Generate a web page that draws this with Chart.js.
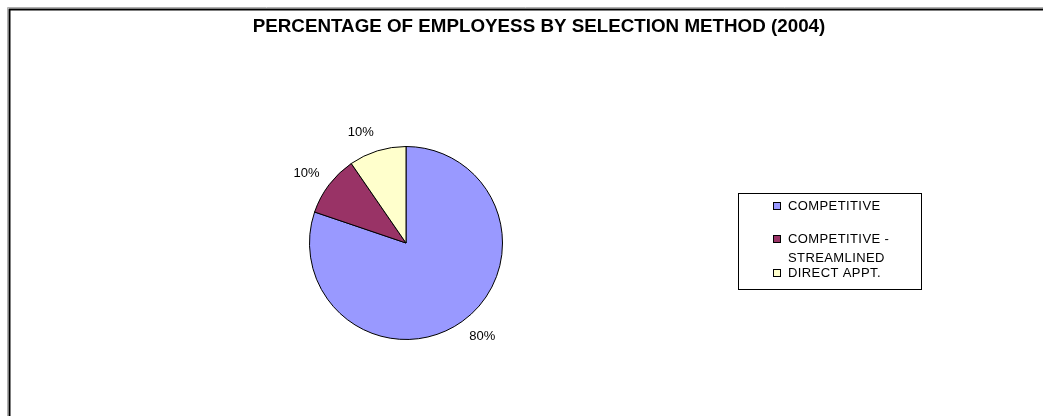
<!DOCTYPE html>
<html>
<head>
<meta charset="utf-8">
<script src="https://cdn.jsdelivr.net/npm/chart.js@4"></script>
<style>
  html, body { margin: 0; padding: 0; background: #fff; }
  #wrap { width: 1043px; height: 416px; position: relative; }
</style>
</head>
<body>
<div id="wrap"><canvas id="pieChart" width="1043" height="416"></canvas></div>
<script>
// Chart data
const TITLE = 'PERCENTAGE OF EMPLOYESS BY SELECTION METHOD (2004)';
const categories = ['COMPETITIVE', 'COMPETITIVE - STREAMLINED', 'DIRECT APPT.'];
const legendLines = [['COMPETITIVE'], ['COMPETITIVE -', 'STREAMLINED'], ['DIRECT APPT.']];
const percentages = [80.2, 10.2, 9.6];
const sliceColors = ['#9999FF', '#993366', '#FFFFCC'];

const FONT = '"Liberation Sans", Arial, sans-serif';

// Frame, title, outside labels and legend box drawn on the canvas
const excelLook = {
    id: 'excelLook',
    beforeDraw(chart) {
        const ctx = chart.ctx;
        ctx.save();
        ctx.fillStyle = '#fff';
        ctx.fillRect(0, 0, chart.width, chart.height);
        // outer chart frame
        ctx.strokeStyle = '#b0b0b0';
        ctx.lineWidth = 1;
        ctx.beginPath();
        ctx.moveTo(7.5, chart.height);
        ctx.lineTo(7.5, 7.5);
        ctx.lineTo(chart.width, 7.5);
        ctx.stroke();
        ctx.strokeStyle = '#000';
        ctx.lineWidth = 2;
        ctx.beginPath();
        ctx.moveTo(9.5, chart.height);
        ctx.lineTo(9.5, 9.5);
        ctx.lineTo(chart.width, 9.5);
        ctx.stroke();
        // title
        ctx.fillStyle = '#000';
        ctx.font = 'bold 18.8px ' + FONT;
        ctx.textAlign = 'center';
        ctx.textBaseline = 'middle';
        ctx.fillText(TITLE, 539, 27);
        ctx.restore();
    },
    afterDatasetsDraw(chart) {
        const ctx = chart.ctx;
        const meta = chart.getDatasetMeta(0);
        ctx.save();
        ctx.fillStyle = '#000';
        ctx.font = '13px ' + FONT;
        ctx.textAlign = 'center';
        ctx.textBaseline = 'middle';
        meta.data.forEach((arc, i) => {
            const text = Math.round(percentages[i]) + '%';
            const w = ctx.measureText(text).width;
            const mid = (arc.startAngle + arc.endAngle) / 2;
            const r = arc.outerRadius + 12;
            const cos = Math.cos(mid), sin = Math.sin(mid);
            const x = arc.x + cos * r + Math.sign(cos) * w / 2;
            const y = arc.y + sin * r + sin * 7;
            ctx.fillText(text, x, y);
        });

        // legend
        const box = { x: 738.5, y: 193.5, w: 183, h: 96 };
        ctx.strokeStyle = '#000';
        ctx.lineWidth = 1;
        ctx.strokeRect(box.x, box.y, box.w, box.h);
        ctx.font = '13px ' + FONT;
        ctx.textAlign = 'left';
        ctx.letterSpacing = '0.4px';
        const rowY = [206, 239, 273];
        legendLines.forEach((lines, i) => {
            const y = rowY[i];
            ctx.fillStyle = sliceColors[i];
            ctx.fillRect(773.5, y - 3.5, 7, 7);
            ctx.strokeStyle = '#000';
            ctx.strokeRect(773.5, y - 3.5, 7, 7);
            ctx.fillStyle = '#000';
            lines.forEach((t, j) => ctx.fillText(t, 788, y + j * 19));
        });
        ctx.restore();
    }
};

const ctx = document.getElementById('pieChart').getContext('2d');
const pieChart = new Chart(ctx, {
    type: 'pie',
    data: {
        labels: categories,
        datasets: [{
            data: percentages,
            backgroundColor: sliceColors,
            borderColor: '#000',
            borderWidth: 1,
            borderJoinStyle: 'miter'
        }]
    },
    options: {
        responsive: false,
        animation: false,
        rotation: 0,
        layout: { padding: { left: 309, top: 146, right: 540, bottom: 76 } },
        plugins: {
            legend: { display: false },
            title: { display: false },
            tooltip: { enabled: false }
        }
    },
    plugins: [excelLook]
});
</script>
</body>
</html>
